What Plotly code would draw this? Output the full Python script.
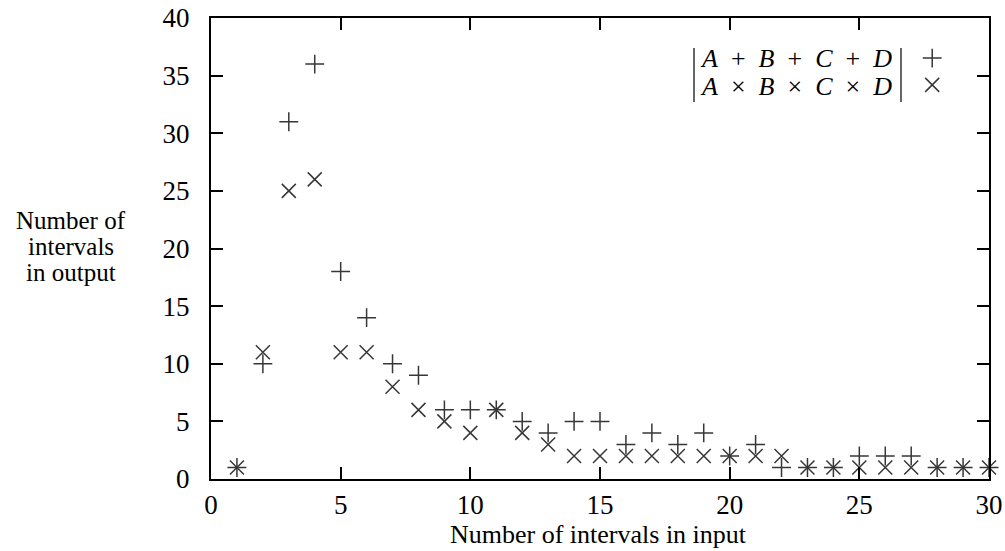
import plotly.graph_objects as go

x_input = list(range(1, 31))
sum_counts = [1, 10, 31, 36, 18, 14, 10, 9, 6, 6, 6, 5, 4, 5, 5, 3, 4, 3, 4, 2,
              3, 1, 1, 1, 2, 2, 2, 1, 1, 1]
prod_counts = [1, 11, 25, 26, 11, 11, 8, 6, 5, 4, 6, 4, 3, 2, 2, 2, 2, 2, 2, 2,
               2, 2, 1, 1, 1, 1, 1, 1, 1, 1]
x_ticks = [0, 5, 10, 15, 20, 25, 30]
y_ticks = [0, 5, 10, 15, 20, 25, 30, 35, 40]

FONT = "Liberation Serif"
MCOL = "rgb(55,55,55)"

fig = go.Figure()
fig.add_trace(go.Scatter(x=x_input, y=sum_counts, mode="markers",
                         marker=dict(symbol="cross-thin", size=13.5,
                                     line=dict(width=1.5, color=MCOL)),
                         showlegend=False, cliponaxis=False))
fig.add_trace(go.Scatter(x=x_input, y=prod_counts, mode="markers",
                         marker=dict(symbol="x-thin", size=14,
                                     line=dict(width=1.5, color=MCOL)),
                         showlegend=False, cliponaxis=False))

# custom legend key symbols on an overlay [0,1] axis
fig.add_trace(go.Scatter(x=[0.927], y=[0.913], mode="markers", xaxis="x2", yaxis="y2",
                         marker=dict(symbol="cross-thin", size=13.5,
                                     line=dict(width=1.5, color=MCOL)),
                         showlegend=False, cliponaxis=False))
fig.add_trace(go.Scatter(x=[0.927], y=[0.855], mode="markers", xaxis="x2", yaxis="y2",
                         marker=dict(symbol="x-thin", size=14,
                                     line=dict(width=1.5, color=MCOL)),
                         showlegend=False, cliponaxis=False))

axis_common = dict(showline=True, linecolor="black", linewidth=2, mirror="ticks",
                   ticks="inside", ticklen=12, tickwidth=2, tickcolor="black",
                   showgrid=False, zeroline=False, automargin=False,
                   ticklabeloverflow="allow",
                   tickfont=dict(family=FONT, size=27, color="black"))

fig.update_layout(
    width=1005, height=551,
    margin=dict(l=211, r=16, t=18, b=72),
    paper_bgcolor="white", plot_bgcolor="white",
    xaxis=dict(range=[0, 30], tickvals=x_ticks, ticklabelstandoff=1, **axis_common),
    yaxis=dict(range=[0, 40], tickvals=y_ticks, ticklabelstandoff=14, **axis_common),
    xaxis2=dict(range=[0, 1], overlaying="x", visible=False, automargin=False),
    yaxis2=dict(range=[0, 1], overlaying="y", visible=False, automargin=False),
    font=dict(family=FONT, color="black"),
)

def px(xp):
    return (xp - 211) / 778

def py(yp):
    return (479 - yp) / 461

def note(txt, xp, yp, size):
    fig.add_annotation(text=txt, xref="paper", yref="paper", x=px(xp), y=py(yp),
                       xanchor="center", yanchor="middle", showarrow=False,
                       font=dict(family=FONT, size=size, color="black"))

# x-axis title
note("Number of intervals in input", 598, 534, 26)
# y-axis title (three lines)
for txt, yy in [("Number of", 221), ("intervals", 246), ("in output", 272)]:
    note(txt, 71, yy, 25)

# legend text
sp = "&nbsp; "
note(f"<i>A</i>{sp}+{sp}<i>B</i>{sp}+{sp}<i>C</i>{sp}+{sp}<i>D</i>", 796, 59, 26)
note(f"<i>A</i>{sp}×{sp}<i>B</i>{sp}×{sp}<i>C</i>{sp}×{sp}<i>D</i>", 796, 86, 26)
for xb in [694, 901]:
    fig.add_shape(type="line", xref="paper", yref="paper", x0=px(xb), x1=px(xb),
                  y0=py(48), y1=py(102), line=dict(color="black", width=1.2))

# remove the default page margin so the figure fills the window exactly
fig.write_html("out.html", config={"displayModeBar": False},
               post_script="document.body.style.margin='0';document.body.style.overflow='hidden';")
